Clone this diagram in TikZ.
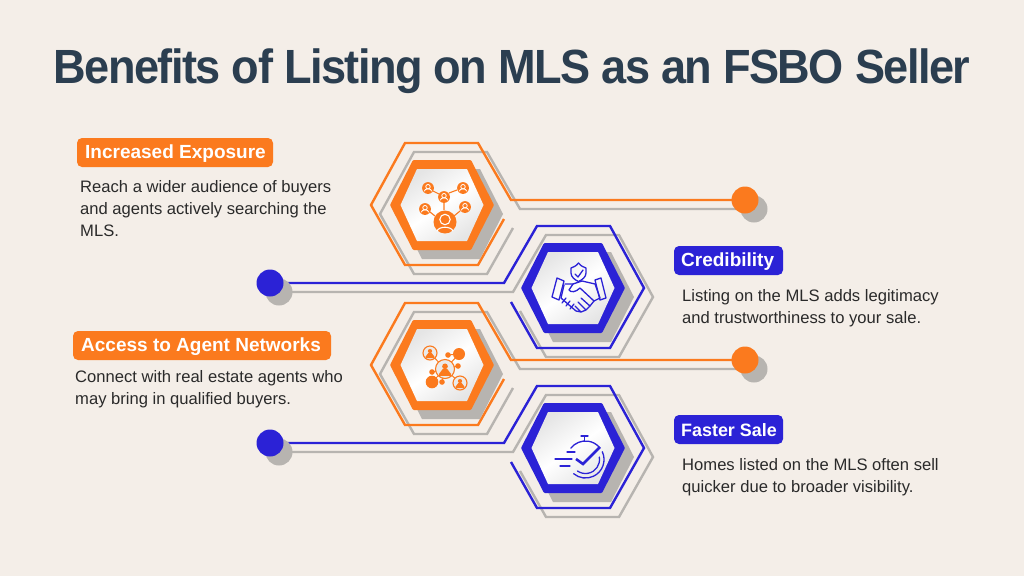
\documentclass[tikz,border=0pt]{standalone}
\usepackage{fontspec}
\setmainfont{Liberation Sans}
\newfontfamily\ttlfont[FakeStretch=0.94,LetterSpace=-3.2]{Liberation Sans}
\usetikzlibrary{backgrounds}
\definecolor{bgc}{HTML}{F4EEE8}
\definecolor{ora}{HTML}{FB7A1E}
\definecolor{blu}{HTML}{2B22D6}
\definecolor{shad}{HTML}{B7B4B0}
\definecolor{ttl}{HTML}{2B3E50}
\definecolor{txt}{HTML}{2A2A2A}
\tikzset{
  pilltext/.style={text=white,font=\fontsize{19}{20}\selectfont\bfseries,anchor=west,inner sep=0pt},
  pillbox/.style={fill=#1,rounded corners=5pt},
  desc/.style={anchor=north west,align=left,inner sep=0pt,text=txt,font=\fontsize{16.6}{22.3}\selectfont},
  dotmain/.style={circle,fill=#1,minimum size=27pt,inner sep=0pt},
  dotshade/.style={circle,fill=shad,minimum size=27pt,inner sep=0pt},
  glyph/.style={draw=#1,line width=1.3pt,line cap=round,line join=round},
}
\newcommand{\hexunit}[5]{% cx cy colour sign dotname
 \begin{pgfonlayer}{background}
 \begin{scope}[shift={(#1,#2)}]
  \draw[shad,line width=2.4pt,line join=miter] [shift={(9,9)},xscale=#4] (62,14)--(36,60)--(-37,60)--(-71,0)--(-37,-62)--(36,-62)--(69,-5)--(#5s.center);
  \draw[#3,line width=2.4pt,line join=miter] [xscale=#4] (62,14)--(36,60)--(-37,60)--(-71,0)--(-37,-62)--(36,-62)--(69,-5)--(#5.center);
 \end{scope}
 \end{pgfonlayer}
 \begin{scope}[shift={(#1,#2)}]
  \fill[shad] (-43,9)--(-20,-36)--(38,-36)--(61,9)--(38,54)--(-20,54)--cycle;
  \fill[#3,rounded corners=1pt] (-52,0)--(-29,-45)--(29,-45)--(52,0)--(29,45)--(-29,45)--cycle;
  \shade[left color=black!10,right color=black!10,middle color=white,shading angle=35] (-41.5,0)--(-25,-36)--(25,-36)--(41.5,0)--(25,36)--(-25,36)--cycle;
 \end{scope}
}
\newcommand{\person}[3]{% x y r
 \fill[ora] (#1,#2) circle (#3);
 \begin{scope}[shift={(#1,#2)},scale=#3]
  \draw[white,line width=.8pt] (0,-.22) circle (.38);
  \draw[white,line width=.8pt] (-.62,.55) arc[start angle=180,end angle=360,x radius=.62,y radius=.42];
 \end{scope}
}
\newcommand{\ringperson}[3]{%
 \draw[ora,line width=1.1pt,fill=white!92!black] (#1,#2) circle (#3);
 \begin{scope}[shift={(#1,#2)},scale=#3]
  \fill[ora] (0,-.28) circle (.3);
  \fill[ora] (-.22,-.02) -- (.22,-.02) -- (.62,.5) -- (.62,.72) -- (-.62,.72) -- (-.62,.5) -- cycle;
 \end{scope}
}
\begin{document}
\begin{tikzpicture}[x=1pt,y=-1pt]
\pgfdeclarelayer{background}\pgfsetlayers{background,main}
\begin{pgfonlayer}{background}
\fill[bgc] (0,0) rectangle (1024,576);
\end{pgfonlayer}
\useasboundingbox (0,0) rectangle (1024,576);
\node[anchor=center,text=ttl,inner sep=0pt,font=\fontsize{48}{52}\ttlfont\bfseries] (title) at (512,71) {Benefits of Listing on MLS as an FSBO Seller};
% dots
\node[dotshade] (d1s) at (754,209) {};
\node[dotmain=ora] (d1) at (745,200) {};
\node[dotshade] (d2s) at (279,292) {};
\node[dotmain=blu] (d2) at (270,283) {};
\node[dotshade] (d3s) at (754,369) {};
\node[dotmain=ora] (d3) at (745,360) {};
\node[dotshade] (d4s) at (279,452) {};
\node[dotmain=blu] (d4) at (270,443) {};
% hex units
\hexunit{442}{205}{ora}{1}{d1}
\hexunit{573}{288}{blu}{-1}{d2}
\hexunit{442}{365}{ora}{1}{d3}
\hexunit{573}{448}{blu}{-1}{d4}
% icon 1
\draw[ora,line width=1.1pt] (433,191)--(439,194) (449,193)--(457,190) (444,203)--(444,210) (430,212)--(435,216) (460,211)--(454,216);
\person{428}{188}{5.9}\person{444}{197}{5.9}\person{463}{188}{5.9}\person{425}{209}{5.9}\person{465}{207}{5.9}
\fill[ora] (445,222) circle (11.5);
\draw[white,line width=1.1pt] (445,219.5) circle (5.2);
\draw[white,line width=1.1pt] (437,231) .. controls (439,226) and (451,226) .. (453,231);
% icon 2
\begin{scope}[glyph=blu]
 \draw (578.5,263) .. controls (576,266) and (574,267) .. (571,268) -- (571,273) .. controls (571,277) and (575,280) .. (578.5,281.5) .. controls (582,280) and (586,277) .. (586,273) -- (586,268) .. controls (583,267) and (581,266) .. (578.5,263) -- cycle;
 \draw (575,274)--(578,277)--(583,270);
 \draw (557,278)--(564,281)--(559,300)--(552,297)--cycle;
 \draw (595,280)--(601,278)--(606,298)--(600,300)--cycle;
 \draw (565,284)--(573,284)--(582,281)--(595,284)--(600,298)--(594,301);
 \draw (573,284)--(569,290)..controls (571,293) and (576,292) .. (580,288)--(594,301)--(590,306)--(581,298);
 \draw (590,306)--(586,310)--(578,302) (586,310)--(581,312)--(575,306) (581,312)--(576,311)--(561,298)--(564,285);
 \draw (562,303)--(566,298) (566,306)--(570,301) (570,309)--(574,304);
\end{scope}
% icon 3
\draw[ora,line width=1pt] (430,353)--(445,369)--(460,383) (445,369)--(459,354) (445,369)--(432,382) (448,355)--(459,354) (458,366)--(445,369) (432,372)--(445,369) (442,382)--(445,369);
\fill[ora] (459,354) circle (6) (432,382) circle (6.3) (448,355) circle (2.8) (458,366) circle (2.8) (432,372) circle (2.8) (442,382) circle (2.8);
\ringperson{430}{353}{7}\ringperson{460}{383}{7}\ringperson{445}{369}{9.5}
% icon 4
\begin{scope}[glyph=blu]
 \draw (581,436)--(588,436) (584.5,436)--(584.5,441);
 \draw (570.9,448.1) arc[start angle=218,end angle=315,radius=18.5];
 \draw (602.3,451.7) arc[start angle=-25,end angle=130,radius=18.5];
 \draw (599.3,457.1) arc[start angle=-10,end angle=125,radius=14];
 \draw (567,452)--(575,452) (555,459)--(572,459) (560,466)--(570,466);
\end{scope}
\draw[blu,line width=2.6pt,line join=miter] (576,459)--(583,464)--(600,447);
% labels
\path[pillbox=ora] (77,138) rectangle (273,167);
\node[pilltext] (l1) at (85,154) {Increased Exposure};
\path[pillbox=blu] (674,246) rectangle (783,275);
\node[pilltext] (l2) at (681,262) {Credibility};
\path[pillbox=ora] (73,331) rectangle (331,360);
\node[pilltext] (l3) at (81,347) {Access to Agent Networks};
\path[pillbox=blu] (674,415) rectangle (783,444);
\node[pilltext,font=\fontsize{17.9}{20}\selectfont\bfseries] (l4) at (681,430.5) {Faster Sale};
\node[desc] (t1) at (80,180) {Reach a wider audience of buyers\\and agents actively searching the\\MLS.};
\node[desc] (t2) at (682,289) {Listing on the MLS adds legitimacy\\and trustworthiness to your sale.};
\node[desc] (t3) at (75,370) {Connect with real estate agents who\\may bring in qualified buyers.};
\node[desc] (t4) at (682,458) {Homes listed on the MLS often sell\\quicker due to broader visibility.};
\end{tikzpicture}
\end{document}
